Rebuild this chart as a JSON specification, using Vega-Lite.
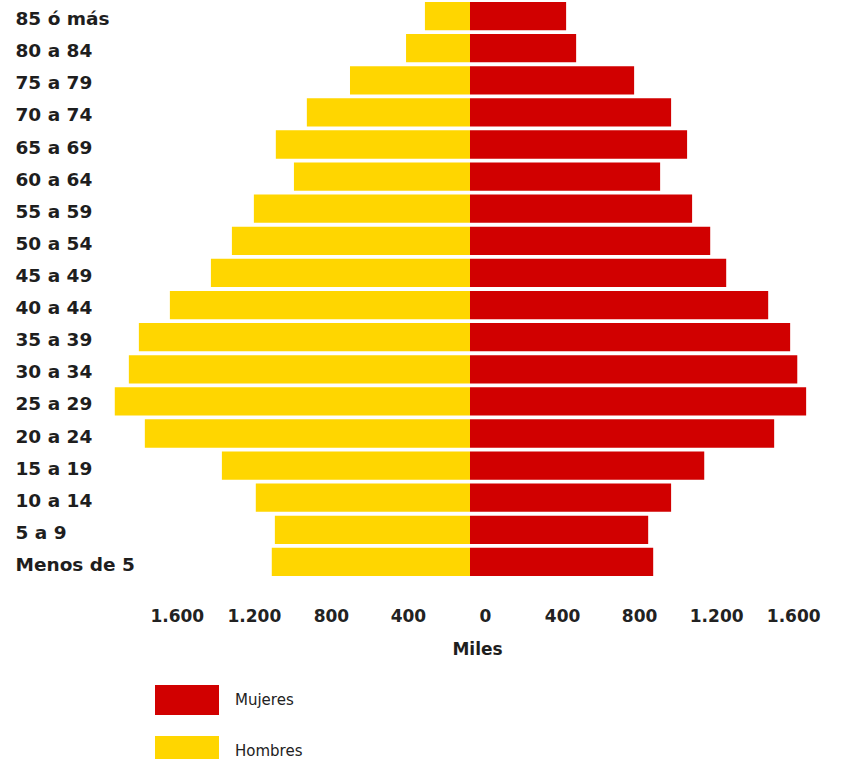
{
  "$schema": "https://vega.github.io/schema/vega-lite/v6.json",
  "width": 732,
  "height": 578,
  "padding": {"left": 15, "top": 0, "right": 0, "bottom": 0},
  "autosize": {"type": "pad"},
  "background": "white",
  "data": {
    "values": [
      {"edad": "85 ó más", "sexo": "Hombres", "miles": 234},
      {"edad": "80 a 84", "sexo": "Hombres", "miles": 332},
      {"edad": "75 a 79", "sexo": "Hombres", "miles": 623},
      {"edad": "70 a 74", "sexo": "Hombres", "miles": 847},
      {"edad": "65 a 69", "sexo": "Hombres", "miles": 1008},
      {"edad": "60 a 64", "sexo": "Hombres", "miles": 914},
      {"edad": "55 a 59", "sexo": "Hombres", "miles": 1122},
      {"edad": "50 a 54", "sexo": "Hombres", "miles": 1236},
      {"edad": "45 a 49", "sexo": "Hombres", "miles": 1345},
      {"edad": "40 a 44", "sexo": "Hombres", "miles": 1558},
      {"edad": "35 a 39", "sexo": "Hombres", "miles": 1719},
      {"edad": "30 a 34", "sexo": "Hombres", "miles": 1771},
      {"edad": "25 a 29", "sexo": "Hombres", "miles": 1844},
      {"edad": "20 a 24", "sexo": "Hombres", "miles": 1688},
      {"edad": "15 a 19", "sexo": "Hombres", "miles": 1288},
      {"edad": "10 a 14", "sexo": "Hombres", "miles": 1112},
      {"edad": "5 a 9", "sexo": "Hombres", "miles": 1013},
      {"edad": "Menos de 5", "sexo": "Hombres", "miles": 1029},
      {"edad": "85 ó más", "sexo": "Mujeres", "miles": 499},
      {"edad": "80 a 84", "sexo": "Mujeres", "miles": 551},
      {"edad": "75 a 79", "sexo": "Mujeres", "miles": 852},
      {"edad": "70 a 74", "sexo": "Mujeres", "miles": 1044},
      {"edad": "65 a 69", "sexo": "Mujeres", "miles": 1127},
      {"edad": "60 a 64", "sexo": "Mujeres", "miles": 987},
      {"edad": "55 a 59", "sexo": "Mujeres", "miles": 1153},
      {"edad": "50 a 54", "sexo": "Mujeres", "miles": 1247},
      {"edad": "45 a 49", "sexo": "Mujeres", "miles": 1330},
      {"edad": "40 a 44", "sexo": "Mujeres", "miles": 1548},
      {"edad": "35 a 39", "sexo": "Mujeres", "miles": 1662},
      {"edad": "30 a 34", "sexo": "Mujeres", "miles": 1699},
      {"edad": "25 a 29", "sexo": "Mujeres", "miles": 1745},
      {"edad": "20 a 24", "sexo": "Mujeres", "miles": 1579},
      {"edad": "15 a 19", "sexo": "Mujeres", "miles": 1216},
      {"edad": "10 a 14", "sexo": "Mujeres", "miles": 1044},
      {"edad": "5 a 9", "sexo": "Mujeres", "miles": 925},
      {"edad": "Menos de 5", "sexo": "Mujeres", "miles": 951}
    ]
  },
  "transform": [
    {"calculate": "datum.sexo === 'Hombres' ? -datum.miles : datum.miles", "as": "valor"}
  ],
  "mark": {"type": "bar"},
  "encoding": {
    "y": {
      "field": "edad",
      "type": "nominal",
      "sort": ["85 ó más", "80 a 84", "75 a 79", "70 a 74", "65 a 69", "60 a 64", "55 a 59", "50 a 54", "45 a 49", "40 a 44", "35 a 39", "30 a 34", "25 a 29", "20 a 24", "15 a 19", "10 a 14", "5 a 9", "Menos de 5"],
      "scale": {"paddingInner": 0.12, "paddingOuter": 0.06},
      "axis": {
        "title": null,
        "domain": false,
        "ticks": false,
        "tickSize": 0,
        "labelAlign": "left",
        "labelBaseline": "middle",
        "labelPadding": 89,
        "labelOffset": 3,
        "labelFont": "DejaVu Sans",
        "labelFontWeight": "bold",
        "labelFontSize": 18.5,
        "labelColor": "#1e1e1e",
        "labelLimit": 300
      }
    },
    "x": {
      "field": "valor",
      "type": "quantitative",
      "stack": null,
      "scale": {"domain": [-1900, 1900], "nice": false, "zero": true},
      "axis": {
        "title": "Miles",
        "values": [-1600, -1200, -800, -400, 0, 400, 800, 1200, 1600],
        "labelExpr": "replace(format(abs(datum.value), ','), ',', '.')",
        "grid": false,
        "domain": false,
        "ticks": false,
        "tickSize": 0,
        "labelPadding": 30,
        "labelOffset": 15,
        "labelFont": "DejaVu Sans",
        "labelFontWeight": "bold",
        "labelFontSize": 17,
        "labelColor": "#222222",
        "labelFlush": false,
        "labelOverlap": false,
        "titleFont": "DejaVu Sans",
        "titleFontWeight": "bold",
        "titleFontSize": 17,
        "titleColor": "#1e1e1e",
        "titleX": 373,
        "titleY": 71,
        "titleAlign": "center",
        "titleBaseline": "middle"
      }
    },
    "color": {
      "field": "sexo",
      "type": "nominal",
      "scale": {"domain": ["Mujeres", "Hombres"], "range": ["#D10000", "#FFD600"]},
      "legend": {
        "title": null,
        "orient": "none",
        "legendX": 51,
        "legendY": 668,
        "direction": "vertical",
        "symbolType": "M-1,-0.47H1V0.47H-1Z",
        "symbolSize": 4096,
        "symbolStrokeWidth": 0,
        "symbolOpacity": 1,
        "labelFont": "DejaVu Sans",
        "labelFontSize": 15,
        "labelColor": "#222222",
        "labelOffset": 16,
        "rowPadding": 3,
        "padding": 0
      }
    }
  },
  "config": {"view": {"stroke": null}}
}
